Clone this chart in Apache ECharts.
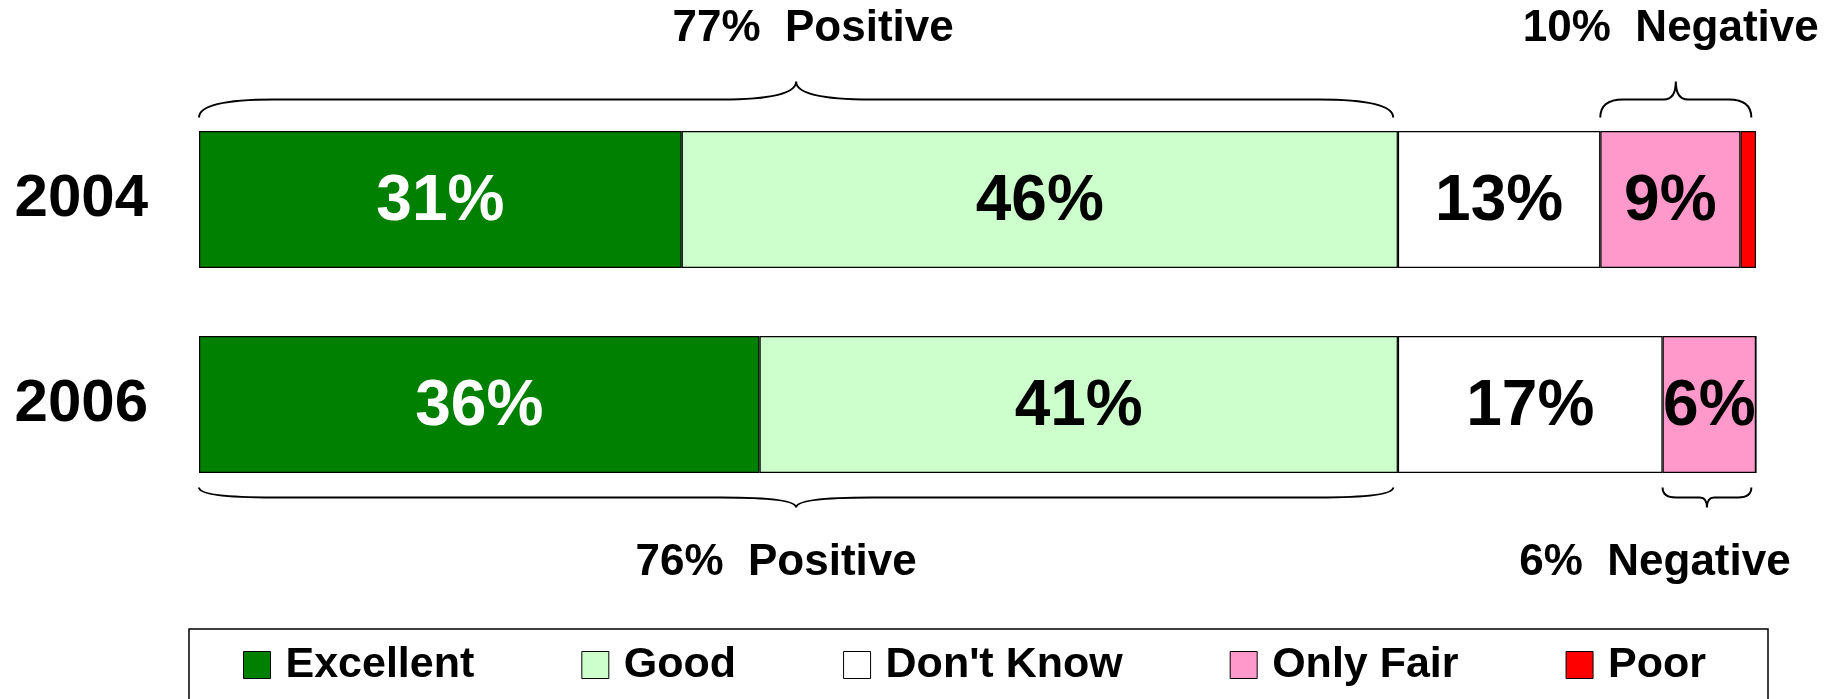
<!DOCTYPE html>
<html>
<head>
<meta charset="utf-8">
<script src="https://cdn.jsdelivr.net/npm/echarts@6/dist/echarts.min.js"></script>
<style>
  html, body { margin: 0; padding: 0; background: #fff; }
  #main { width: 1839px; height: 699px; }
</style>
</head>
<body>
<div id="main"></div>
<script>
// values
const years = ["2004", "2006"];
const excellent = [31, 36];
const good = [46, 41];
const dontKnow = [13, 17];
const onlyFair = [9, 6];
const poor = [1, 0];
// totals as printed next to the braces (rounded separately in the source)
const positiveTotal = [77, 76];
const negativeTotal = [10, 6];
const legendNames = ["Excellent", "Good", "Don't Know", "Only Fair", "Poor"];

const FONT = "'Liberation Sans', Arial, sans-serif";

var myChart = echarts.init(document.getElementById("main"));

// braces span the positive block and the negative block of each bar
var braceData = [];
var braceText = [];
years.forEach(function(y, i) {
  var posEnd = excellent[i] + good[i];
  var side = i === 0 ? 1 : -1; // 2004 brace above, 2006 brace below
  braceData.push([0, posEnd - 0.3, i, side]);
  braceText.push(positiveTotal[i] + "%  Positive");
  braceData.push([posEnd + dontKnow[i], 99.7, i, side]);
  braceText.push(negativeTotal[i] + "%  Negative");
});
var textShift = [17, -5, -20, -52];

function renderBrace(params, api) {
  var row = api.value(2);
  var side = api.value(3);
  var a = api.coord([api.value(0), row]);
  var b = api.coord([api.value(1), row]);
  var yc = a[1];
  var x0 = a[0], x1 = b[0], xm = (x0 + x1) / 2;
  var w = x1 - x0;
  var yEnd, yLine, yPeak, yText;
  if (side > 0) {
    yEnd = yc - 82; yLine = yc - 100; yPeak = yc - 118; yText = yc - 171;
  } else {
    yEnd = yc + 83; yLine = yc + 93; yPeak = yc + 103; yText = yc + 158;
  }
  var rEnd = Math.min(75, w * 0.15);
  var rMid = Math.min(75, w * 0.08);
  var d = "M" + x0 + "," + yEnd +
    " Q" + x0 + "," + yLine + " " + (x0 + rEnd) + "," + yLine +
    " L" + (xm - rMid) + "," + yLine +
    " Q" + xm + "," + yLine + " " + xm + "," + yPeak +
    " Q" + xm + "," + yLine + " " + (xm + rMid) + "," + yLine +
    " L" + (x1 - rEnd) + "," + yLine +
    " Q" + x1 + "," + yLine + " " + x1 + "," + yEnd;
  return {
    type: "group",
    children: [
      {
        type: "path",
        shape: { pathData: d },
        style: { fill: null, stroke: "#000", lineWidth: 2 }
      },
      {
        type: "text",
        x: xm + textShift[params.dataIndex],
        y: yText,
        style: {
          text: braceText[params.dataIndex],
          fill: "#000",
          font: "bold 44px " + FONT,
          align: "center",
          verticalAlign: "middle"
        }
      }
    ]
  };
}

function barSeries(name, data, color, labelColor) {
  return {
    name: name,
    type: "bar",
    stack: "total",
    barWidth: 137,
    data: data,
    itemStyle: { color: color, borderColor: "#000", borderWidth: 1.2 },
    label: {
      show: true,
      position: "inside",
      offset: [0, 3],
      color: labelColor,
      fontSize: 64,
      fontWeight: "bold",
      fontFamily: FONT,
      formatter: function(p) {
        return p.value >= 2 ? p.value + "%" : "";
      }
    }
  };
}

myChart.setOption({
  animation: false,
  textStyle: { fontFamily: FONT },
  grid: { left: 199, right: 83, top: 97, bottom: 192 },
  xAxis: {
    type: "value",
    min: 0,
    max: 100,
    show: false
  },
  yAxis: {
    type: "category",
    data: years,
    inverse: true,
    axisLine: { show: false },
    axisTick: { show: false },
    axisLabel: {
      margin: 51,
      color: "#000",
      fontSize: 60,
      fontWeight: "bold",
      fontFamily: FONT
    }
  },
  legend: {
    data: legendNames,
    left: 189,
    top: 629,
    orient: "horizontal",
    padding: [11, 62, 40, 54],
    borderColor: "#000",
    borderWidth: 1.5,
    itemGap: 107,
    itemWidth: 27,
    itemHeight: 27,
    icon: "rect",
    selectedMode: false,
    itemStyle: { borderColor: "#000", borderWidth: 1 },
    textStyle: {
      color: "#000",
      fontSize: 43,
      fontWeight: "bold",
      fontFamily: FONT,
      lineHeight: 50,
      padding: [0, 0, 0, 10]
    }
  },
  series: [
    barSeries("Excellent", excellent, "#008000", "#fff"),
    barSeries("Good", good, "#CCFFCC", "#000"),
    barSeries("Don't Know", dontKnow, "#FFFFFF", "#000"),
    barSeries("Only Fair", onlyFair, "#FF99CC", "#000"),
    barSeries("Poor", poor, "#FF0000", "#000"),
    {
      name: "braces",
      type: "custom",
      renderItem: renderBrace,
      data: braceData,
      silent: true,
      z: 5
    }
  ]
});
</script>
</body>
</html>
